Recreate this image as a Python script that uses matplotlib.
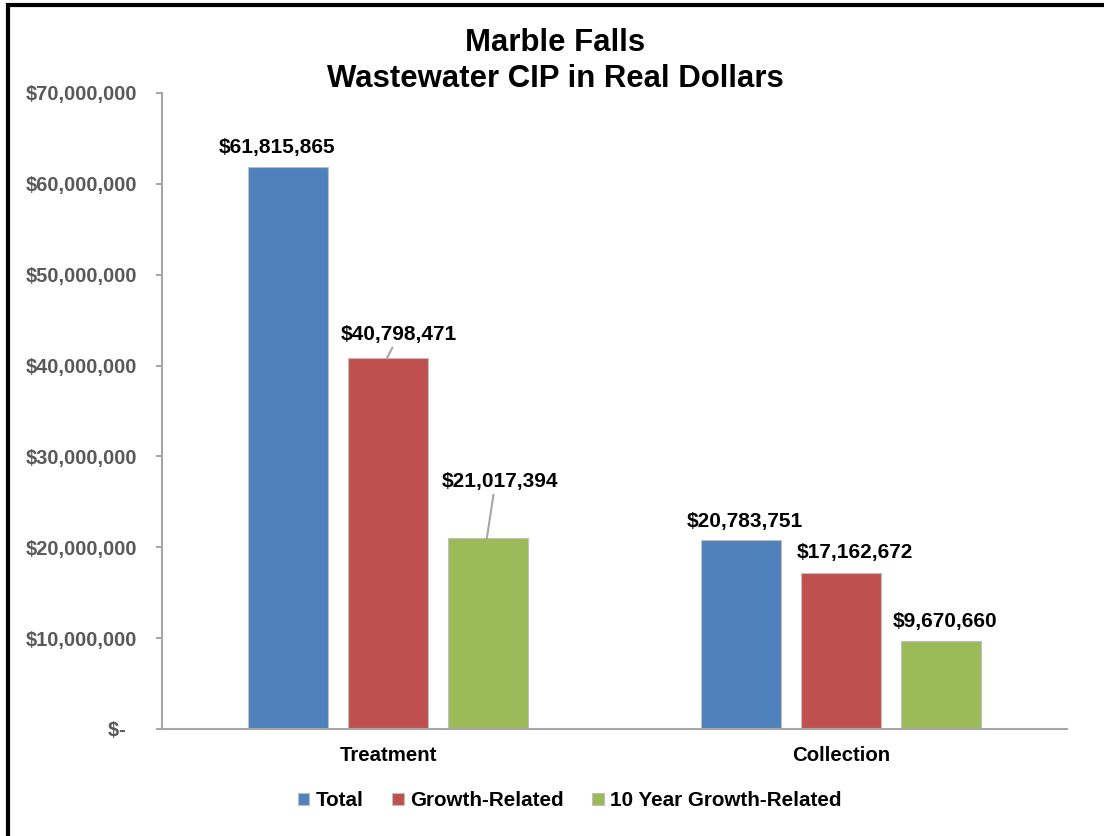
import matplotlib
matplotlib.use("Agg")
import matplotlib.pyplot as plt
from matplotlib.patches import Rectangle
import numpy as np

plt.rcParams['font.family'] = ['Liberation Sans', 'DejaVu Sans']
plt.rcParams['font.weight'] = 'bold'

# ---- data ----
categories = ["Treatment", "Collection"]
series_names = ["Total", "Growth-Related", "10 Year Growth-Related"]
total = [61815865, 20783751]
growth = [40798471, 17162672]
growth10 = [21017394, 9670660]
yticks = [0, 10000000, 20000000, 30000000, 40000000, 50000000, 60000000, 70000000]

# ---- style / layout ----
colors = ["#4F81BD", "#C0504D", "#9BBB59"]
# label positions (x in category units, y in value units) for each series per category
label_pos = [
    [(-0.245, 64.0e6), (0.787, 22.8e6)],
    [(0.024, 43.4e6), (1.032, 19.4e6)],
    [(0.2475, 27.2e6), (1.231, 11.8e6)],
]
leader = [[False, False], [True, False], [True, False]]

fig = plt.figure(figsize=(11.04, 8.36), dpi=100)
ax = fig.add_axes([0.1467, 0.1280, 0.8198, 0.7608])

x = np.arange(len(categories))
width = 0.177
step = 0.221
series = [total, growth, growth10]
for i, (vals, name, c) in enumerate(zip(series, series_names, colors)):
    xs = x + (i - 1) * step
    ax.bar(xs, vals, width=width, color=c, edgecolor="#BFBFBF", linewidth=0.8, label=name, zorder=2)
    for j, v in enumerate(vals):
        lx, ly = label_pos[i][j]
        ax.text(lx, ly, f"${v:,.0f}", ha="center", va="center", fontsize=15,
                fontweight="bold", color="black", zorder=3)
        if leader[i][j]:
            tx0 = lx - 0.015
            ax.plot([tx0, xs[j] - 0.003], [ly - 1.45e6, v], color="#A6A6A6", lw=1.5, zorder=3,
                    clip_on=False)

ax.set_xlim(-0.5, 1.5)
ax.set_ylim(0, 70e6)
ax.set_yticks(yticks)
ax.set_yticklabels(["$-  " if t == 0 else f"${t:,.0f}" for t in yticks],
                   fontsize=14.5, fontweight="bold", color="#595959")
ax.set_xticks(x)
ax.set_xticklabels(categories, fontsize=14.7, fontweight="bold", color="black")
ax.tick_params(axis="x", length=0, pad=12)
ax.tick_params(axis="y", length=4, width=1.5, color="#A6A6A6", pad=14)
for s in ["top", "right"]:
    ax.spines[s].set_visible(False)
for s in ["left", "bottom"]:
    ax.spines[s].set_color("#A6A6A6")
    ax.spines[s].set_linewidth(1.5)

fig.text(0.503, 0.948, "Marble Falls", ha="center", va="center", fontsize=22.4, fontweight="bold")
fig.text(0.503, 0.905, "Wastewater CIP in Real Dollars", ha="center", va="center", fontsize=22.4, fontweight="bold")

leg = fig.legend(loc="center", bbox_to_anchor=(0.516, 0.042), ncol=3, frameon=False,
                 fontsize=14.9, handlelength=0.55, handleheight=0.55, handletextpad=0.3,
                 columnspacing=1.4)
for t in leg.get_texts():
    t.set_fontweight("bold")

# outer frame
fig.add_artist(Rectangle((8 / 1104, -0.05), 1.2, 1 - 5 / 836 + 0.05, transform=fig.transFigure,
                         fill=False, edgecolor="black", linewidth=3, zorder=10))

fig.savefig("out.png", dpi=100)
